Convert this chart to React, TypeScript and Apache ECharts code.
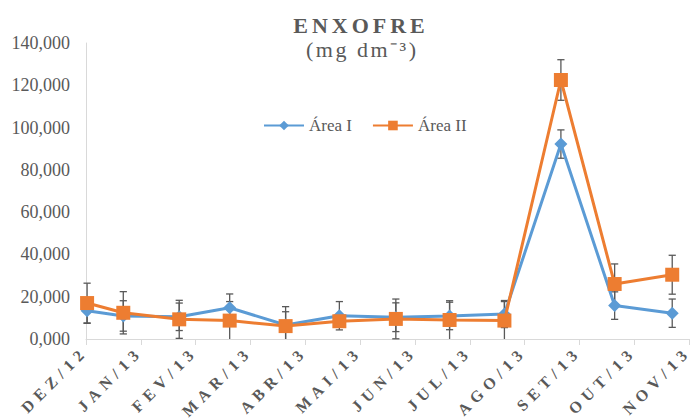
import React, { useEffect, useRef } from "react";
import * as echarts from "echarts";

// Month labels (ticks on the axis) and the sampling position of each point, in months from the first tick
const categories = ["DEZ/12", "JAN/13", "FEV/13", "MAR/13", "ABR/13", "MAI/13", "JUN/13", "JUL/13", "AGO/13", "SET/13", "OUT/13", "NOV/13"];
const samplePos = [0.02, 0.68, 1.7, 2.62, 3.64, 4.62, 5.65, 6.63, 7.63, 8.66, 9.64, 10.69];

// Sulfur (mg dm-3) and standard errors
const areaI = [13.4, 10.9, 10.5, 14.8, 6.6, 11.0, 10.3, 10.9, 11.8, 92.2, 15.8, 12.2];
const areaIErr = [6.0, 7.2, 6.5, 6.5, 8.7, 6.7, 6.8, 6.5, 6.4, 6.7, 6.5, 6.7];
const areaII = [17.0, 12.4, 9.3, 8.7, 6.1, 8.4, 9.5, 9.0, 8.7, 122.5, 26.0, 30.4];
const areaIIErr = [9.4, 10.0, 9.0, 9.0, 6.8, 2.6, 9.4, 9.1, 9.0, 9.6, 9.5, 9.2];

const yMin = 0;
const yMax = 140;
const yStep = 20;

const titleText = "ENXOFRE";
const subText = "(mg dm\u207B\u00B3)";
const seriesNames = ["Área I", "Área II"];

const FONT = '"Liberation Serif", "Times New Roman", serif';
const GREY = "#595959";

function errorSeries(name: string, vals: number[], errs: number[]) {
  return {
    name: name + " erro",
    type: "custom",
    xAxisIndex: 1,
    z: 2,
    silent: true,
    encode: { x: 0, y: 1 },
    data: vals.map((v, i) => [samplePos[i], v, errs[i]]),
    renderItem: (params: any, api: any) => {
      const x = api.value(0);
      const y = api.value(1);
      const e = api.value(2);
      const lowVal = Math.max(yMin, y - e);
      const top = api.coord([x, y + e]);
      const bot = api.coord([x, lowVal]);
      const hw = 3.6;
      const style = { stroke: GREY, lineWidth: 1.3 };
      const children: any[] = [
        { type: "line", shape: { x1: top[0], y1: top[1], x2: bot[0], y2: bot[1] }, style },
        { type: "line", shape: { x1: top[0] - hw, y1: top[1], x2: top[0] + hw, y2: top[1] }, style },
      ];
      if (y - e >= yMin) {
        children.push({ type: "line", shape: { x1: bot[0] - hw, y1: bot[1], x2: bot[0] + hw, y2: bot[1] }, style });
      }
      return { type: "group", children };
    },
  };
}

export default function App() {
  const ref = useRef<HTMLDivElement>(null);

  useEffect(() => {
    if (!ref.current) return;
    const el = ref.current;
    const chart = echarts.init(el, undefined, { renderer: "svg" });

    const option: any = {
      animation: false,
      backgroundColor: "#ffffff",
      grid: { left: 86, right: 4, top: 43, bottom: 80, containLabel: false },
      graphic: [
        {
          type: "text",
          x: 359,
          y: 25,
          style: {
            text: titleText,
            font: `bold 22px ${FONT}`,
            fill: GREY,
            textAlign: "center",
            textVerticalAlign: "middle",
            align: "center",
            verticalAlign: "middle",
          },
        },
        {
          type: "text",
          x: 361,
          y: 49,
          style: {
            text: subText,
            font: `22px ${FONT}`,
            fill: GREY,
            textAlign: "center",
            textVerticalAlign: "middle",
            align: "center",
            verticalAlign: "middle",
          },
        },
      ],
      legend: {
        data: seriesNames,
        left: 263,
        top: 117,
        padding: 0,
        itemWidth: 40,
        itemHeight: 12,
        itemGap: 20,
        textStyle: { fontFamily: FONT, fontSize: 17, color: GREY },
      },
      xAxis: [
        {
          type: "category",
          data: categories,
          boundaryGap: false,
          axisLine: { show: true, lineStyle: { color: "#d9d9d9", width: 1 } },
          axisTick: { show: true, length: 6, lineStyle: { color: "#d9d9d9" } },
          splitLine: { show: false },
          axisLabel: {
            interval: 0,
            rotate: 45,
            margin: 9,
            fontFamily: FONT,
            fontWeight: "bold",
            fontSize: 16,
            color: GREY,
          },
        },
        { type: "value", min: 0, max: categories.length - 1, show: false },
      ],
      yAxis: {
        type: "value",
        min: yMin,
        max: yMax,
        interval: yStep,
        axisLine: { show: true, lineStyle: { color: "#d9d9d9", width: 1 } },
        axisTick: { show: false },
        splitLine: { show: false },
        axisLabel: {
          margin: 16,
          fontFamily: FONT,
          fontSize: 18,
          color: GREY,
          formatter: (v: number) => v.toFixed(3).replace(".", ","),
        },
      },
      series: [
        errorSeries(seriesNames[0], areaI, areaIErr),
        errorSeries(seriesNames[1], areaII, areaIIErr),
        {
          name: seriesNames[0],
          type: "line",
          xAxisIndex: 1,
          z: 3,
          data: areaI.map((v, i) => [samplePos[i], v]),
          symbol: "diamond",
          symbolSize: 13,
          lineStyle: { width: 3, color: "#5B9BD5" },
          itemStyle: { color: "#5B9BD5" },
        },
        {
          name: seriesNames[1],
          type: "line",
          xAxisIndex: 1,
          z: 4,
          data: areaII.map((v, i) => [samplePos[i], v]),
          symbol: "rect",
          symbolSize: 14,
          lineStyle: { width: 3, color: "#ED7D31" },
          itemStyle: { color: "#ED7D31" },
        },
      ],
    };

    chart.setOption(option);

    const applySpacing = () => {
      el.querySelectorAll("text").forEach((t) => {
        const s = t.textContent || "";
        let ls = 0;
        let shift = 0;
        if (categories.includes(s)) {
          ls = 5.5;
          shift = ls - 7;
        } else if (s === titleText) {
          ls = 4;
          shift = ls / 2;
        } else if (s === subText) {
          ls = 2.5;
          shift = ls / 2;
        }
        if (!ls || t.getAttribute("data-ls")) return;
        t.setAttribute("data-ls", "1");
        t.setAttribute("letter-spacing", String(ls));
        const x = parseFloat(t.getAttribute("x") || "0");
        t.setAttribute("x", String(x + shift));
      });
    };
    applySpacing();
    chart.on("finished", applySpacing);

    return () => {
      chart.dispose();
    };
  }, []);

  return (
    <div
      ref={ref}
      style={{ position: "fixed", left: 0, top: 0, width: 697, height: 419, background: "#fff" }}
    />
  );
}
